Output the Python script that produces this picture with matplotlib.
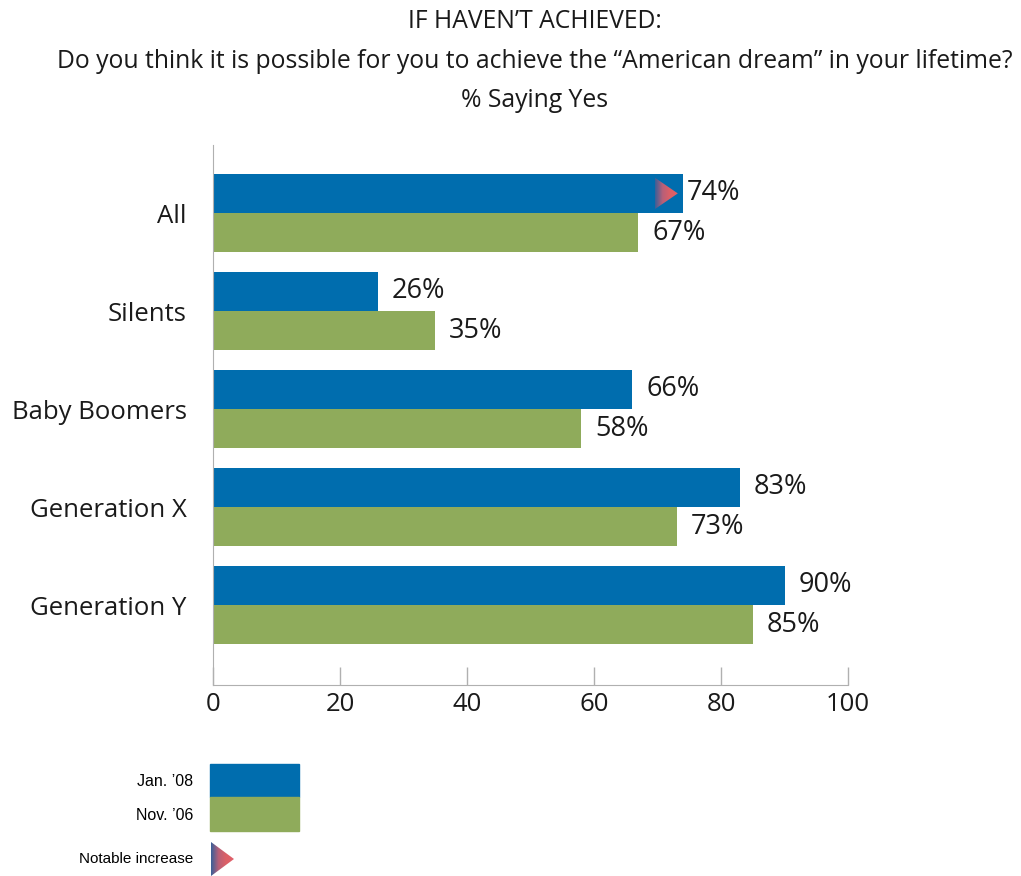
import numpy as np
import matplotlib
matplotlib.use("Agg")
import matplotlib.pyplot as plt
from matplotlib.patches import Polygon, Rectangle
from matplotlib.colors import LinearSegmentedColormap

# -- Data --
groups = ["All", "Silents", "Baby Boomers", "Generation X", "Generation Y"]
jan08 = [74, 26, 66, 83, 90]
nov06 = [67, 35, 58, 73, 85]
notable = [True, False, False, False, False]
xticks = [0, 20, 40, 60, 80, 100]

title = ("IF HAVEN\u2019T ACHIEVED:\n"
         "Do you think it is possible for you to achieve the \u201cAmerican dream\u201d in your lifetime?\n"
         "% Saying Yes")

blue = "#006dae"
green = "#8fab5b"
axis_gray = "#b0b0b0"
tri_cmap = LinearSegmentedColormap.from_list("tri", ["#3a5f98", "#b86078", "#dd5f66", "#e0606a"])

plt.rcParams["font.family"] = ["Open Sans", "DejaVu Sans"]

W, H = 1021, 876
fig = plt.figure(figsize=(W / 100, H / 100), dpi=100)
ax = fig.add_axes([213 / W, 1 - 685 / H, (848 - 213) / W, (685 - 145) / H])

y = np.arange(len(groups))
bh = 0.4
ax.barh(y - bh / 2, jan08, height=bh, color=blue, zorder=2)
ax.barh(y + bh / 2, nov06, height=bh, color=green, zorder=2)

ax.set_xlim(0, 100)
ax.set_ylim(4.816, -0.694)


def gradient_triangle(a, x0, x1, y0, y1):
    grad = np.linspace(0, 1, 64).reshape(1, -1)
    im = a.imshow(grad, cmap=tri_cmap, extent=(x0, x1, y1, y0), aspect="auto",
                  zorder=3, interpolation="bilinear")
    tri = Polygon([[x0, y0], [x0, y1], [x1, (y0 + y1) / 2]], closed=True,
                  transform=a.transData, facecolor="none", edgecolor="none")
    a.add_patch(tri)
    im.set_clip_path(tri)


for i, (a, b) in enumerate(zip(jan08, nov06)):
    off = 0.6 if notable[i] else 2.2
    ax.text(a + off, i - bh / 2, f"{a}%", va="center", ha="left", fontsize=19.5, color="#1a1a1a")
    ax.text(b + 2.2, i + bh / 2, f"{b}%", va="center", ha="left", fontsize=19.5, color="#1a1a1a")
    if notable[i]:
        gradient_triangle(ax, a - 4.4, a - 0.8, i - bh / 2 - 0.16, i - bh / 2 + 0.16)

ax.set_yticks(y)
ax.set_yticklabels(groups, fontsize=18.5, color="#1a1a1a")
ax.tick_params(axis="y", length=0, pad=19)
ax.set_xticks(xticks)
ax.set_xticklabels([str(t) for t in xticks], fontsize=18.5, color="#1a1a1a")
ax.tick_params(axis="x", direction="in", length=13, width=1, color=axis_gray, pad=5)

for s in ["top", "right"]:
    ax.spines[s].set_visible(False)
ax.spines["left"].set_color(axis_gray)
ax.spines["bottom"].set_color(axis_gray)

fig.text(535 / W, 1 - 9 / H, title, ha="center", va="top", fontsize=17.8, linespacing=1.77,
         color="#1a1a1a")

# -- Legend --
lg = fig.add_axes([0, 0, 1, 1])
lg.set_xlim(0, W)
lg.set_ylim(H, 0)
lg.axis("off")
lg.add_patch(Rectangle((210, 764), 89, 33, color=blue))
lg.add_patch(Rectangle((210, 797), 89, 34, color=green))
legend_font = ["Liberation Sans", "DejaVu Sans"]
lg.text(193, 782, "Jan. \u201908", ha="right", va="center", fontsize=11.5, family=legend_font)
lg.text(193, 815, "Nov. \u201906", ha="right", va="center", fontsize=11.5, family=legend_font)
lg.text(193, 859, "Notable increase", ha="right", va="center", fontsize=11, family=legend_font)
gradient_triangle(lg, 211, 234, 842, 876)

fig.savefig("out.png", dpi=100)
